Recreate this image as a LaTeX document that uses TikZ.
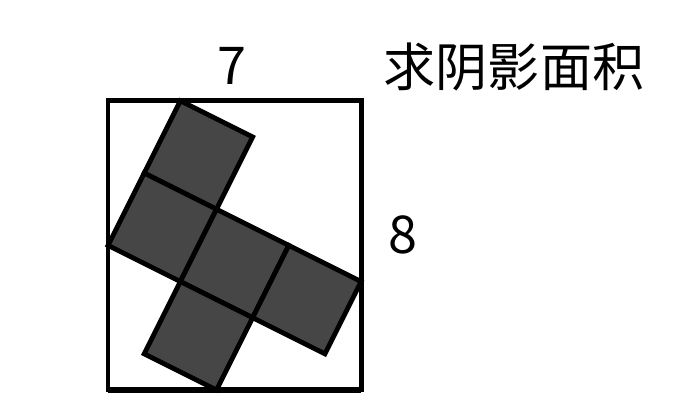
\documentclass[tikz,border=0pt]{standalone}
\usepackage{fontspec}
\newfontfamily\cjk{Noto Sans CJK SC}
\definecolor{shade}{HTML}{464646}
\begin{document}
\begin{tikzpicture}[line join=miter]
    \useasboundingbox (-2.99,-0.58) rectangle (16.10,10.79);
    % прямоугольник 7 x 8
    \draw[line width=3.8pt] (0,0) rectangle (7,8);
    \draw[line width=5.5pt] (0,0) -- (7,0);
    % пять квадратов со стороной sqrt(5)
    \foreach \x/\y in {2/8,1/6,3/5,5/4,2/3}
        \filldraw[fill=shade, line width=3.8pt] (\x,\y) -- ++(2,-1) -- ++(-1,-2) -- ++(-2,1) -- cycle;
    % подписи
    \node (width) at (3.43,8.97) {\cjk\fontsize{41}{41}\selectfont 7};
    \node (height) at (8.16,4.29) {\cjk\fontsize{41}{41}\selectfont 8};
    \node (task) at (11.23,8.93) {\cjk\fontsize{41}{41}\selectfont 求阴影面积};
\end{tikzpicture}
\end{document}
